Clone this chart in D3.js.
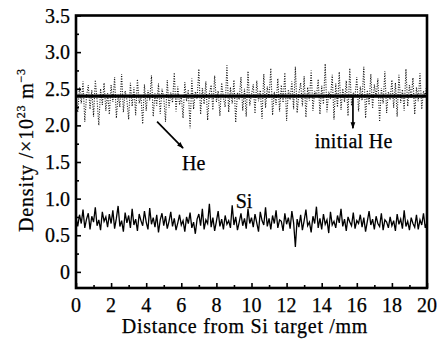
<!DOCTYPE html>
<html>
<head>
<meta charset="utf-8">
<script src="https://cdn.jsdelivr.net/npm/d3@7"></script>
<style>
  body { margin: 0; background: #fff; }
  svg text { font-family: "Liberation Serif", "DejaVu Serif", serif; fill: #000; stroke: #000; stroke-width: 0.25; }
</style>
</head>
<body>
<div id="chart"></div>
<script>
// NOTE: data (distance in mm, density in 1e23 m^-3)
const sampleStep = 0.1;
const siDensity = [
  0.74,0.62,0.78,0.66,0.85,0.60,0.72,0.80,0.58,0.76,0.68,0.88,0.63,0.71,0.57,0.82,0.69,0.75,0.61,0.79,
  0.66,0.84,0.59,0.73,0.90,0.62,0.70,0.55,0.81,0.67,0.77,0.60,0.86,0.64,0.72,0.56,0.79,0.70,0.63,0.83,
  0.68,0.58,0.87,0.65,0.74,0.61,0.78,0.54,0.71,0.80,0.63,0.76,0.59,0.69,0.82,0.62,0.73,0.57,0.67,0.78,
  0.64,0.70,0.55,0.75,0.66,0.81,0.60,0.68,0.52,0.72,0.79,0.63,0.86,0.58,0.71,0.66,0.93,0.61,0.74,0.56,
  0.69,0.83,0.62,0.72,0.58,0.77,0.65,0.70,0.60,0.91,0.64,0.75,0.57,0.68,0.80,0.63,0.73,0.59,0.86,0.66,
  0.74,0.61,0.79,0.67,0.55,0.82,0.70,0.64,0.88,0.62,0.73,0.58,0.77,0.66,0.84,0.60,0.71,0.69,0.56,0.80,
  0.65,0.74,0.59,0.83,0.67,0.34,0.72,0.61,0.78,0.57,0.70,0.85,0.63,0.68,0.54,0.76,0.66,0.89,0.60,0.73,
  0.58,0.79,0.65,0.71,0.53,0.82,0.64,0.69,0.60,0.77,0.67,0.86,0.62,0.72,0.56,0.75,0.68,0.63,0.81,0.59,
  0.70,0.66,0.78,0.61,0.74,0.55,0.69,0.83,0.64,0.72,0.58,0.76,0.66,0.62,0.80,0.57,0.71,0.68,0.60,0.75,
  0.63,0.70,0.56,0.79,0.65,0.72,0.59,0.84,0.62,0.69,0.57,0.74,0.66,0.61,0.78,0.58,0.71,0.64,0.80,0.60,0.68
];
const heDensity = [
  2.45,2.18,2.52,2.30,2.60,2.05,2.40,2.55,2.22,2.48,2.12,2.62,2.35,2.00,2.50,2.28,2.58,2.20,2.44,2.15,
  2.55,2.32,2.66,2.10,2.42,2.25,2.70,2.18,2.47,2.35,2.08,2.58,2.26,2.52,2.14,2.63,2.30,2.40,2.02,2.56,
  2.20,2.48,2.34,2.68,2.12,2.44,2.27,2.57,2.16,2.50,2.38,2.05,2.62,2.24,2.45,2.31,2.72,2.19,2.53,2.28,
  2.40,2.10,2.59,2.33,2.49,1.96,2.64,2.22,2.46,2.36,2.77,2.15,2.51,2.29,2.60,2.07,2.43,2.55,2.21,2.68,
  2.32,2.47,2.13,2.58,2.38,2.25,2.82,2.18,2.52,2.30,2.62,2.04,2.45,2.35,2.66,2.20,2.50,2.12,2.74,2.27,
  2.42,2.56,2.16,2.61,2.33,2.48,2.09,2.70,2.24,2.53,2.37,2.78,2.14,2.46,2.28,2.64,2.19,2.55,2.31,2.72,
  2.06,2.49,2.35,2.60,2.22,2.80,2.17,2.44,2.58,2.26,2.67,2.11,2.52,2.34,2.75,2.20,2.47,2.39,2.63,2.15,
  2.54,2.29,2.84,2.18,2.46,2.36,2.69,2.08,2.57,2.25,2.73,2.21,2.50,2.32,2.61,2.13,2.78,2.27,2.45,2.40,
  2.66,2.19,2.53,2.34,2.80,2.10,2.48,2.28,2.70,2.23,2.56,2.38,2.64,2.05,2.51,2.30,2.74,2.17,2.46,2.35,
  2.62,2.24,2.58,2.12,2.69,2.31,2.49,2.20,2.77,2.26,2.55,2.37,2.65,2.15,2.52,2.33,2.71,2.22,2.47,2.40,2.58
];
const initialHe = 2.4;
const xTicks = [0, 2, 4, 6, 8, 10, 12, 14, 16, 18, 20];
const yTicks = [0, 0.5, 1.0, 1.5, 2.0, 2.5, 3.0, 3.5];

// NOTE: layout
const width = 441, height = 340;
const plot = { left: 76, right: 427, top: 15.5, bottom: 288 };

const x = d3.scaleLinear().domain([0, 20]).range([plot.left, plot.right]);
const y = d3.scaleLinear().domain([-0.22, 3.5]).range([plot.bottom, plot.top]);

const svg = d3.select('#chart').append('svg')
  .attr('width', width).attr('height', height);

svg.append('defs').append('marker')
  .attr('id', 'arrow')
  .attr('viewBox', '0 0 10 10')
  .attr('refX', 9).attr('refY', 5)
  .attr('markerWidth', 4.5).attr('markerHeight', 4)
  .attr('orient', 'auto')
  .append('path').attr('d', 'M0,1.5L10,5L0,8.5z').attr('fill', '#000');

const line = d3.line()
  .x((d, i) => x(i * sampleStep))
  .y((d) => y(d));

// He (dotted)
svg.append('path')
  .datum(heDensity)
  .attr('d', line)
  .attr('fill', 'none')
  .attr('stroke', '#111')
  .attr('stroke-width', 1.1)
  .attr('stroke-dasharray', '1,1.5');

// initial He
svg.append('line')
  .attr('x1', x(0)).attr('x2', x(20))
  .attr('y1', y(initialHe)).attr('y2', y(initialHe))
  .attr('stroke', '#000').attr('stroke-width', 3.4);

// Si
svg.append('path')
  .datum(siDensity)
  .attr('d', line)
  .attr('fill', 'none')
  .attr('stroke', '#000')
  .attr('stroke-width', 1.3);

// axes (ticks inward)
const xAxis = svg.append('g')
  .attr('transform', `translate(0,${plot.bottom})`)
  .call(d3.axisBottom(x).tickValues(d3.range(0, 21, 1)).tickSize(-4).tickFormat(''));
xAxis.selectAll('line').attr('stroke-width', 1.6).attr('y2', (d) => (d % 2 === 0 ? -5 : -3));
xAxis.select('.domain').remove();

const yAxis = svg.append('g')
  .attr('transform', `translate(${plot.left},0)`)
  .call(d3.axisLeft(y).tickValues(d3.range(0, 3.51, 0.25)).tickSize(-4).tickFormat(''));
yAxis.selectAll('line').attr('stroke-width', 1.6)
  .attr('x2', (d) => (Math.abs(d * 2 - Math.round(d * 2)) < 1e-6 ? 5 : 3));
yAxis.select('.domain').remove();

// frame
svg.append('rect')
  .attr('x', plot.left).attr('y', plot.top)
  .attr('width', plot.right - plot.left).attr('height', plot.bottom - plot.top)
  .attr('fill', 'none').attr('stroke', '#000').attr('stroke-width', 2.6);

// tick labels
svg.append('g').selectAll('text')
  .data(xTicks).join('text')
  .attr('x', (d) => x(d)).attr('y', 312)
  .attr('text-anchor', 'middle').attr('font-size', 20)
  .text((d) => d);

svg.append('g').selectAll('text')
  .data(yTicks).join('text')
  .attr('x', 70).attr('y', (d) => y(d) + 7)
  .attr('text-anchor', 'end').attr('font-size', 20)
  .text((d) => (d === 0 ? '0' : d.toFixed(1)));

// axis titles
svg.append('text')
  .attr('x', 245).attr('y', 333)
  .attr('text-anchor', 'middle').attr('font-size', 20)
  .attr('letter-spacing', 0.7)
  .text('Distance from Si target /mm');

const yTitle = svg.append('text')
  .attr('transform', 'translate(33,150) rotate(-90)')
  .attr('text-anchor', 'middle').attr('font-size', 20)
  .attr('letter-spacing', 0.8);
yTitle.append('tspan').text('Density /\u00d710');
yTitle.append('tspan').attr('font-size', 12).attr('dy', -8).text('23');
yTitle.append('tspan').attr('dy', 8).text(' m');
yTitle.append('tspan').attr('font-size', 12).attr('dy', -8).text('\u22123');

// annotations
svg.append('line')
  .attr('x1', x(4.62)).attr('y1', y(2.05))
  .attr('x2', x(6.1)).attr('y2', y(1.69))
  .attr('stroke', '#000').attr('stroke-width', 1.7)
  .attr('marker-end', 'url(#arrow)');
svg.append('text')
  .attr('x', x(6.04)).attr('y', y(1.39))
  .attr('font-size', 20).text('He');

svg.append('line')
  .attr('x1', x(15.78)).attr('y1', y(initialHe))
  .attr('x2', x(15.78)).attr('y2', y(1.96))
  .attr('stroke', '#000').attr('stroke-width', 1.7)
  .attr('marker-end', 'url(#arrow)');
svg.append('text')
  .attr('x', x(13.6)).attr('y', y(1.69))
  .attr('font-size', 20).attr('letter-spacing', 0.3).text('initial He');

svg.append('text')
  .attr('x', x(9.1)).attr('y', y(0.873))
  .attr('font-size', 20).text('Si');
</script>
</body>
</html>
